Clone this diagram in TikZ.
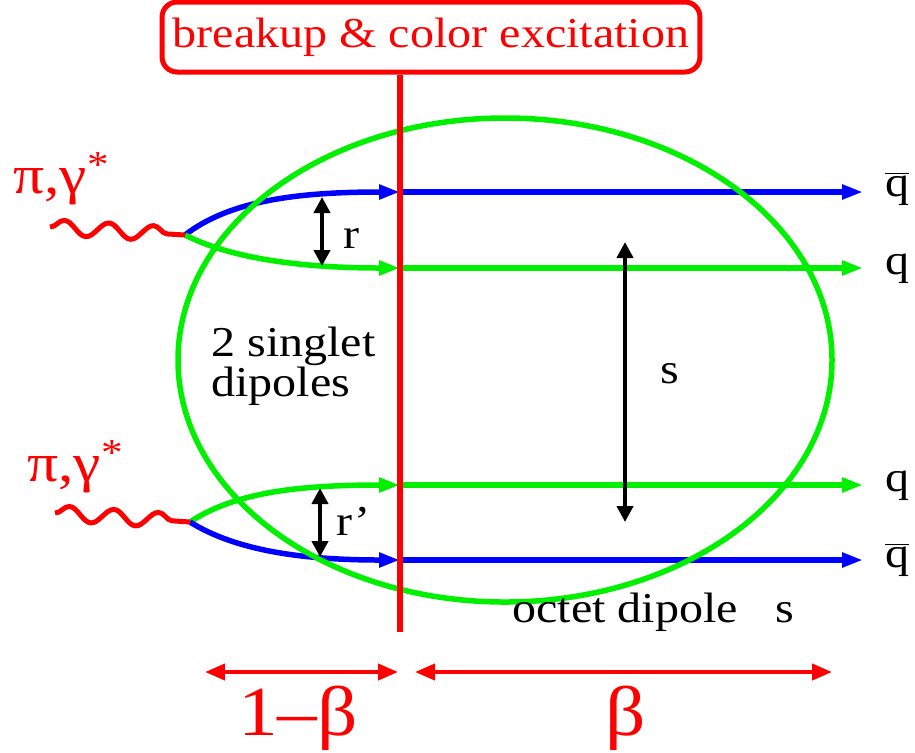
\documentclass[tikz,border=0pt]{standalone}
\usepackage{fontspec}
\setmainfont{Liberation Serif}[FakeStretch=1.13]
\usepackage{tikz}
\usetikzlibrary{arrows.meta, decorations.pathmorphing, positioning}
\definecolor{pred}{HTML}{FF0000}
\definecolor{pgreen}{HTML}{00F000}
\definecolor{pblue}{HTML}{0000FF}
\tikzset{
  quark/.style    = {line width=0.11cm, -{Triangle[length=0.42cm, width=0.28cm]}},
  bag/.style      = {draw=pgreen, line width=0.11cm},
  cutline/.style  = {draw=pred, line width=0.12cm},
  titlebox/.style = {draw=pred, text=pred, line width=0.1cm, rounded corners=0.3cm,
                     minimum width=10.76cm, minimum height=1.4cm, inner sep=0pt},
  gluon/.style    = {draw=pred, line width=0.1cm,
                     decorate, decoration={snake, segment length=0.895cm, amplitude=0.15cm}},
  sep/.style      = {draw=black, line width=0.09cm,
                     {Triangle[length=0.32cm, width=0.32cm]}-{Triangle[length=0.32cm, width=0.32cm]}},
  frac/.style     = {draw=pred, line width=0.08cm,
                     {Triangle[length=0.4cm, width=0.32cm]}-{Triangle[length=0.4cm, width=0.32cm]}},
  qlab/.style     = {inner sep=0pt, anchor=mid west},
  plab/.style     = {text=pred, inner sep=0pt, anchor=base west, font=\fontsize{31}{31}\selectfont},
  blab/.style     = {text=pred, inner sep=0pt, anchor=base, font=\fontsize{40}{40}\selectfont},
}

\begin{document}
\begin{tikzpicture}[x=0.02cm, y=-0.02cm, font=\fontsize{24.2}{22.8}\selectfont]
  \useasboundingbox (0,0) rectangle (915,752);
  \node[titlebox] (title) at (431,37) {breakup \& color excitation};
  \coordinate (cut) at (400,632);
  \coordinate (v1) at (185,235);
  \coordinate (v2) at (190,522);
  \coordinate (b1) at (400,192);
  \coordinate (g1) at (400,268);
  \coordinate (g2) at (400,485);
  \coordinate (b2) at (400,560);
  \node[qlab] (qb1) at (885,192) {$\overline{\mbox{q}}$};
  \node[qlab] (q1) at (885,270) {q};
  \node[qlab] (q2) at (885,487) {q};
  \node[qlab] (qb2) at (885,563) {$\overline{\mbox{q}}$};
  \draw[quark, pblue] (v1) .. controls (230,200) and (300,192) .. (b1);
  \draw[quark, pgreen] (v1) .. controls (230,258) and (300,268) .. (g1);
  \draw[quark, pgreen] (v2) .. controls (235,492) and (300,485) .. (g2);
  \draw[quark, pblue] (v2) .. controls (235,550) and (300,560) .. (b2);
  \draw[quark, pblue] (b1) -- ([xshift=-0.44cm]b1 -| qb1.west);
  \draw[quark, pgreen] (g1) -- ([xshift=-0.44cm]g1 -| q1.west);
  \draw[quark, pgreen] (g2) -- ([xshift=-0.44cm]g2 -| q2.west);
  \draw[quark, pblue] (b2) -- ([xshift=-0.44cm]b2 -| qb2.west);
  \draw[bag] (505,360) ellipse [x radius=327, y radius=242];
  \draw[cutline] (title.south -| cut) -- (cut);
  \node[plab] (pi1) at (13,193) {π,γ\textsuperscript{*}};
  \node[plab] (pi2) at (27,481) {π,γ\textsuperscript{*}};
  \coordinate (w1) at (50,227);
  \coordinate (w2) at (55,513);
  \draw[gluon] (w1) -- (v1);
  \draw[gluon] (w2) -- (v2);
  \coordinate (r1t) at (322,197);
  \coordinate (r1b) at (322,266);
  \coordinate (r2t) at (320,488);
  \coordinate (r2b) at (320,557);
  \coordinate (st) at (625,242);
  \coordinate (sb) at (625,522);
  \draw[sep] (r1t) -- (r1b);
  \draw[sep] (r2t) -- (r2b);
  \draw[sep] (st) -- (sb);
  \node[inner sep=0pt, anchor=base west] (rlab) at (343,248) {r};
  \node[inner sep=0pt, anchor=base west] (rplab) at (336,535) {r'};
  \node[inner sep=0pt, anchor=base west] (slab) at (660,383) {s};
  \node[inner sep=0pt, anchor=west, align=left] (singlet) at (211,366) {2 singlet\\dipoles};
  \node[inner sep=0pt, anchor=base west] (octet) at (512,622) {octet dipole\hspace{0.6em} s};
  \coordinate (f1) at (205,672);
  \coordinate (f2) at (398,672);
  \coordinate (f3) at (415,672);
  \coordinate (f4) at (832,672);
  \draw[frac] (f1) -- (f2);
  \draw[frac] (f3) -- (f4);
  \node[blab] (onemb) at (298,735) {1\textendash β};
  \node[blab] (beta) at (626,735) {β};
\end{tikzpicture}
\end{document}
